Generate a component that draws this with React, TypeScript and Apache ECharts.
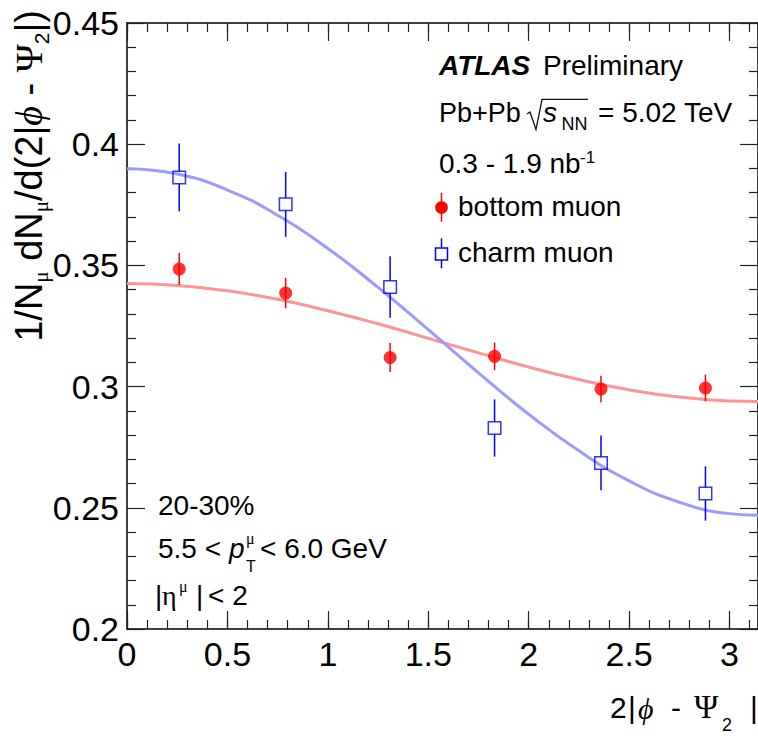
import React, { useEffect, useRef } from "react";
import * as echarts from "echarts";

// ---- data ----
const binCenters = [0.26, 0.79, 1.31, 1.83, 2.36, 2.88];
const bottomValues = [0.3485, 0.3386, 0.312, 0.3125, 0.299, 0.2994];
const bottomErrors = [0.0066, 0.0063, 0.006, 0.0057, 0.0055, 0.0055];
const charmValues = [0.3863, 0.3752, 0.3411, 0.2829, 0.2685, 0.2559];
const charmErrors = [0.014, 0.0134, 0.0127, 0.0118, 0.0113, 0.0112];
const fitX = [0, 0.25, 0.5, 0.75, 1, 1.25, 1.5, 1.75, 2, 2.25, 2.5, 2.75, 3, 3.1416];
const bottomFit = [0.3425, 0.3417, 0.3395, 0.336, 0.3313, 0.3259, 0.3199, 0.3139, 0.3081, 0.3029, 0.2987, 0.2957, 0.2941, 0.2939];
const charmFit = [0.3899, 0.3877, 0.3811, 0.3707, 0.357, 0.3409, 0.3235, 0.3057, 0.2886, 0.2735, 0.2611, 0.2523, 0.2476, 0.2469];
const xRange = [0, Math.PI];
const yRange = [0.2, 0.45];

const SANS = '"Liberation Sans", Arial, Helvetica, sans-serif';
const SERIF = '"Liberation Serif", "Times New Roman", serif';

type TxtOpt = { family?: string; italic?: boolean; bold?: boolean; align?: string };
const txt = (x: number, base: number, text: string, fs: number, o: TxtOpt = {}) => {
  const fam = o.family || SANS;
  const k = fam === SANS ? 0.3465 : 0.3375;
  return {
    type: "text",
    x,
    y: base - k * fs,
    silent: true,
    style: {
      text,
      fontSize: fs,
      fontFamily: fam,
      fontStyle: o.italic ? "italic" : "normal",
      fontWeight: o.bold ? "bold" : "normal",
      fill: "#000",
      align: o.align || "left",
      verticalAlign: "middle",
    },
  };
};

const axisLineStyle = { color: "#000", width: 1.5 };
const tickStyle = { color: "#222", width: 1.2 };

const errBar = (color: string, gap: number) => (params: any, api: any) => {
  const x = api.value(0);
  const y = api.value(1);
  const e = api.value(2);
  const c = api.coord([x, y]);
  const t = api.coord([x, y + e]);
  const b = api.coord([x, y - e]);
  const st = { stroke: color, lineWidth: 1.5 };
  return {
    type: "group",
    children: [
      { type: "line", shape: { x1: c[0], y1: t[1], x2: c[0], y2: c[1] - gap }, style: st },
      { type: "line", shape: { x1: c[0], y1: c[1] + gap, x2: c[0], y2: b[1] }, style: st },
    ],
  };
};

export default function App() {
  const ref = useRef<HTMLDivElement>(null);
  useEffect(() => {
    if (!ref.current) return;
    const chart = echarts.init(ref.current, undefined, { renderer: "svg" });

    const majorX = (pos: string, labels: boolean) => ({
      type: "value",
      min: xRange[0],
      max: xRange[1],
      interval: 0.5,
      position: pos,
      axisLine: { show: true, onZero: false, lineStyle: axisLineStyle },
      axisTick: { show: true, inside: true, length: 18, lineStyle: tickStyle },
      axisLabel: {
        show: labels,
        margin: 8,
        fontSize: 34,
        color: "#000",
        fontFamily: SANS,
        showMaxLabel: false,
      },
      splitLine: { show: false },
    });
    const minorX = (pos: string) => ({
      type: "value",
      min: xRange[0],
      max: xRange[1],
      interval: 0.1,
      position: pos,
      axisLine: { show: false },
      axisTick: { show: true, inside: true, length: 9, lineStyle: tickStyle },
      axisLabel: { show: false },
      splitLine: { show: false },
    });
    const yAx = (pos: string, labels: boolean) => ({
      type: "value",
      min: yRange[0],
      max: yRange[1],
      interval: 0.05,
      position: pos,
      axisLine: { show: true, onZero: false, lineStyle: axisLineStyle },
      axisTick: { show: true, inside: true, length: 18, lineStyle: tickStyle },
      minorTick: { show: true, splitNumber: 5, length: 9, lineStyle: tickStyle },
      axisLabel: { show: labels, margin: 8, fontSize: 34, color: "#000", fontFamily: SANS },
      splitLine: { show: false },
      minorSplitLine: { show: false },
    });

    const graphic: any[] = [
      // y axis title (rotated)
      {
        type: "text",
        x: 29,
        y: 10,
        rotation: Math.PI / 2,
        silent: true,
        style: {
          text:
            "{m|1/N}{s|μ}{m| dN}{s|μ}{m|/d(2|}{g|ϕ}{m| - }{p|Ψ}{n|2}{m||)}",
          align: "right",
          verticalAlign: "middle",
          rich: {
            m: { fontSize: 38, fontFamily: SANS, fill: "#000", lineHeight: 45, verticalAlign: "middle" },
            s: { fontSize: 21, fontFamily: SERIF, fill: "#000", lineHeight: 21, verticalAlign: "bottom" },
            n: { fontSize: 21, fontFamily: SANS, fill: "#000", lineHeight: 21, verticalAlign: "bottom" },
            g: { fontSize: 38, fontFamily: SERIF, fontStyle: "italic", fill: "#000", lineHeight: 45, verticalAlign: "middle" },
            p: { fontSize: 38, fontFamily: SERIF, fill: "#000", lineHeight: 45, verticalAlign: "middle" },
          },
        },
      },
      // x axis title
      txt(610, 718.3, "2", 30),
      txt(628, 718.3, "|", 30),
      txt(638, 718.3, "ϕ", 30, { family: SERIF, italic: true }),
      txt(671, 718.3, "-", 30),
      txt(694, 718.3, "Ψ", 33, { family: SERIF }),
      txt(722, 731.7, "2", 18),
      txt(750, 718.3, "|", 30),
      // ATLAS label
      txt(439, 75, "ATLAS", 28, { bold: true, italic: true }),
      txt(543, 75, "Preliminary", 28),
      txt(439, 122.7, "Pb+Pb", 27),
      {
        type: "polyline",
        silent: true,
        shape: { points: [[527, 114], [530, 112], [536, 129.5], [542, 99.3], [588, 99.3]] },
        style: { stroke: "#111", lineWidth: 1.3, fill: "none" },
      },
      txt(543, 122.7, "s", 28, { italic: true }),
      txt(561.5, 130, "NN", 18),
      txt(598, 122.7, "= 5.02 TeV", 28),
      txt(439, 173, "0.3 - 1.9 nb", 28),
      txt(580, 163, "-1", 17),
      // legend
      {
        type: "line",
        silent: true,
        shape: { x1: 441.5, y1: 192.7, x2: 441.5, y2: 221.7 },
        style: { stroke: "#ff0000", lineWidth: 1.5 },
      },
      { type: "circle", silent: true, shape: { cx: 441.5, cy: 207.5, r: 6.3 }, style: { fill: "#ff0000" } },
      txt(458, 216.7, "bottom muon", 28),
      {
        type: "line",
        silent: true,
        shape: { x1: 441.5, y1: 238.3, x2: 441.5, y2: 248 },
        style: { stroke: "#0000ff", lineWidth: 1.5 },
      },
      {
        type: "line",
        silent: true,
        shape: { x1: 441.5, y1: 260, x2: 441.5, y2: 268.3 },
        style: { stroke: "#0000ff", lineWidth: 1.5 },
      },
      {
        type: "rect",
        silent: true,
        shape: { x: 435.5, y: 248, width: 12, height: 12 },
        style: { stroke: "#0000ff", lineWidth: 1.5, fill: "none" },
      },
      txt(458, 262.7, "charm muon", 28),
      // bottom-left labels
      txt(158, 515.7, "20-30%", 28),
      txt(158, 558.3, "5.5 <", 28),
      txt(229, 558.3, "p", 28, { italic: true }),
      txt(246, 544, "μ", 16, { family: SERIF }),
      txt(246, 571.7, "T", 16),
      txt(260, 558.3, "< 6.0 GeV", 28),
      txt(155, 605, "|", 28),
      txt(162, 605, "η", 28, { family: SERIF }),
      txt(179, 592, "μ", 16, { family: SERIF }),
      txt(196, 605, "|", 28),
      txt(208, 605, "< 2", 28),
    ];

    chart.setOption({
      animation: false,
      backgroundColor: "#fff",
      grid: { left: 127, top: 23, width: 632, height: 606, containLabel: false },
      xAxis: [majorX("bottom", true), majorX("top", false), minorX("bottom"), minorX("top")],
      yAxis: [yAx("left", true), yAx("right", false)],
      series: [
        {
          type: "line",
          data: fitX.map((x, i) => [x, bottomFit[i]]),
          showSymbol: false,
          smooth: true,
          silent: true,
          lineStyle: { color: "#ff9494", width: 3 },
          z: 2,
        },
        {
          type: "line",
          data: fitX.map((x, i) => [x, charmFit[i]]),
          showSymbol: false,
          smooth: true,
          silent: true,
          lineStyle: { color: "#9b9bff", width: 3 },
          z: 2,
        },
        {
          type: "custom",
          renderItem: errBar("#ff0000", 0),
          data: binCenters.map((x, i) => [x, bottomValues[i], bottomErrors[i]]),
          encode: { x: 0, y: 1 },
          silent: true,
          z: 3,
        },
        {
          type: "custom",
          renderItem: errBar("#0000ff", 6.3),
          data: binCenters.map((x, i) => [x, charmValues[i], charmErrors[i]]),
          encode: { x: 0, y: 1 },
          silent: true,
          z: 3,
        },
        {
          type: "scatter",
          data: binCenters.map((x, i) => [x, bottomValues[i]]),
          symbol: "circle",
          symbolSize: 13,
          itemStyle: { color: "#ff0000" },
          silent: true,
          z: 4,
        },
        {
          type: "scatter",
          data: binCenters.map((x, i) => [x, charmValues[i]]),
          symbol: "rect",
          symbolSize: 12.5,
          itemStyle: { color: "rgba(255,255,255,0)", borderColor: "#0000ff", borderWidth: 1.5 },
          silent: true,
          z: 4,
        },
      ],
      graphic,
    });
    return () => chart.dispose();
  }, []);
  return (
    <div
      ref={ref}
      style={{ position: "absolute", left: 0, top: 0, width: 758, height: 736, background: "#fff" }}
    />
  );
}
